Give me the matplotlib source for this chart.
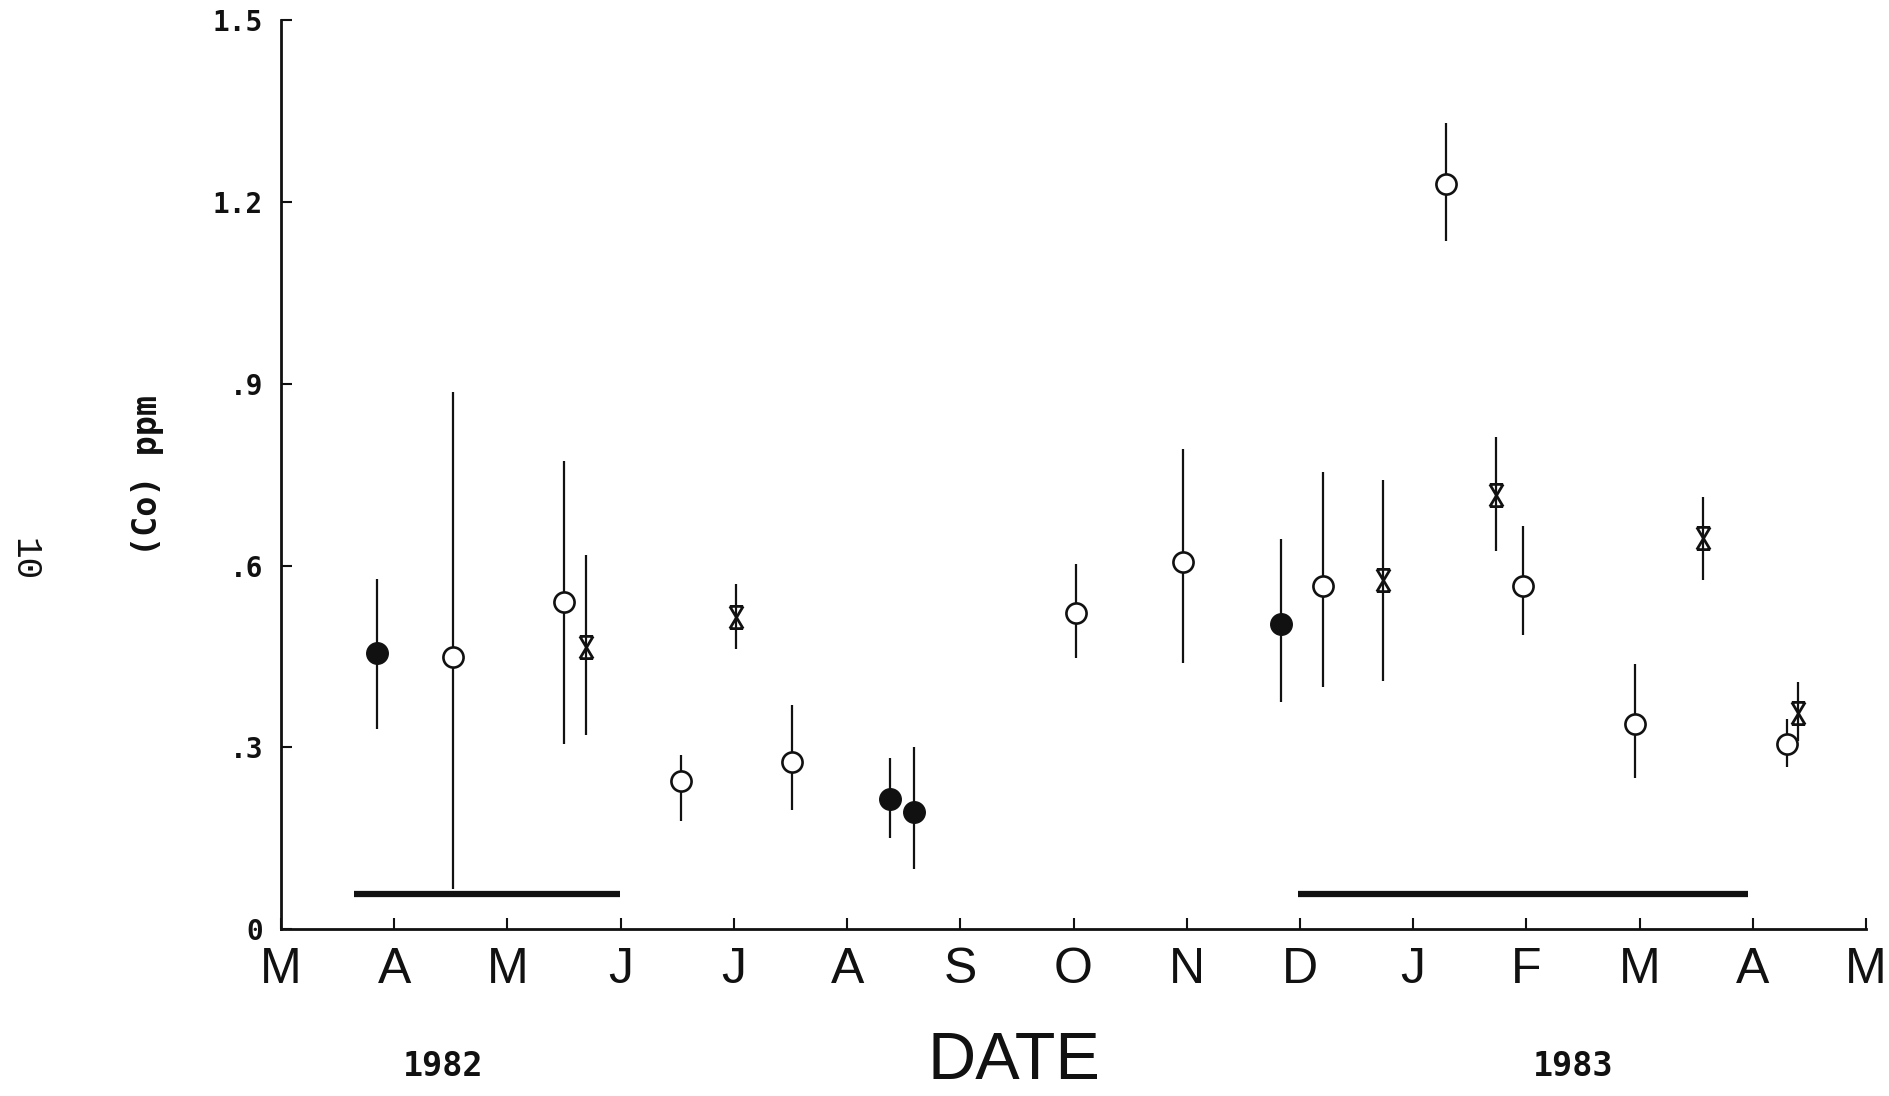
import matplotlib
matplotlib.use("Agg")
import matplotlib.pyplot as plt
from matplotlib.path import Path

# months counted from 1 March 1982 (one unit per month)
month_labels = ["M", "A", "M", "J", "J", "A", "S", "O", "N", "D", "J", "F", "M", "A", "M"]
y_ticks = [0, 0.3, 0.6, 0.9, 1.2, 1.5]
y_tick_labels = ["0", ".3", ".6", ".9", "1.2", "1.5"]

# filled circles
filled_x = [0.85, 5.38, 5.59, 8.83]
filled_y = [0.455, 0.215, 0.193, 0.503]
filled_lo = [0.330, 0.151, 0.099, 0.374]
filled_hi = [0.578, 0.282, 0.300, 0.644]

# open circles
open_x = [1.52, 2.50, 3.53, 4.51, 7.02, 7.97, 9.20, 10.29, 10.97, 11.96, 13.30]
open_y = [0.449, 0.540, 0.244, 0.276, 0.521, 0.606, 0.566, 1.230, 0.566, 0.338, 0.306]
open_lo = [0.066, 0.306, 0.179, 0.197, 0.447, 0.439, 0.399, 1.135, 0.485, 0.250, 0.268]
open_hi = [0.886, 0.773, 0.288, 0.370, 0.602, 0.793, 0.755, 1.331, 0.666, 0.437, 0.346]

# hourglass stars
star_x = [2.69, 4.02, 9.73, 10.73, 12.56, 13.40]
star_y = [0.465, 0.515, 0.576, 0.717, 0.646, 0.356]
star_lo = [0.320, 0.463, 0.409, 0.624, 0.576, 0.310]
star_hi = [0.618, 0.570, 0.741, 0.813, 0.713, 0.407]

# thick horizontal period bars
period_start = [0.64, 8.98]
period_end = [2.99, 12.96]
period_level = [0.058, 0.058]

INK = "#111111"

# X with bars on top and bottom
star_path = Path(
    [(-0.6, 1), (0.6, 1), (-0.6, 1), (0.6, -1), (0.6, 1), (-0.6, -1), (-0.6, -1), (0.6, -1)],
    [Path.MOVETO, Path.LINETO, Path.MOVETO, Path.LINETO,
     Path.MOVETO, Path.LINETO, Path.MOVETO, Path.LINETO],
)

fig = plt.figure(figsize=(18.89, 10.96), dpi=100)
ax = fig.add_axes([0.1488, 0.1524, 0.839, 0.829])

ax.vlines(filled_x, filled_lo, filled_hi, color=INK, lw=1.6)
ax.vlines(open_x, open_lo, open_hi, color=INK, lw=1.6)
ax.vlines(star_x, star_lo, star_hi, color=INK, lw=1.6)

ax.plot(filled_x, filled_y, "o", ms=15.5, color=INK, ls="none")
ax.plot(open_x, open_y, "o", ms=14.5, mfc="white", mec=INK, mew=1.9, ls="none")
ax.plot(star_x, star_y, marker=star_path, ms=16, mfc="none", mec=INK, mew=2.0, ls="none")

ax.hlines(period_level, period_start, period_end, color=INK, lw=4.5)

ax.set_xlim(0, 14)
ax.set_ylim(0, 1.5)
ax.set_xticks(range(len(month_labels)))
ax.set_xticklabels(month_labels, family="Liberation Sans", fontsize=36)
ax.set_yticks(y_ticks)
ax.set_yticklabels(y_tick_labels, family="DejaVu Sans Mono", fontweight="bold", fontsize=20)
ax.tick_params(axis="x", direction="in", length=8, width=1.5, pad=13, colors=INK)
ax.tick_params(axis="y", direction="in", length=8, width=1.5, pad=13, colors=INK)

for side in ("top", "right"):
    ax.spines[side].set_visible(False)
for side in ("left", "bottom"):
    ax.spines[side].set_linewidth(2)
    ax.spines[side].set_color(INK)

fig.text(1014 / 1889, 1 - 1079 / 1096, "DATE", ha="center", va="baseline",
         family="Liberation Sans", fontsize=48, color=INK)
fig.text(443 / 1889, 1 - 1066 / 1096, "1982", ha="center", va="center",
         family="DejaVu Sans Mono", fontweight="bold", fontsize=24, color=INK)
fig.text(1573 / 1889, 1 - 1066 / 1096, "1983", ha="center", va="center",
         family="DejaVu Sans Mono", fontweight="bold", fontsize=24, color=INK)
fig.text(148 / 1889, 1 - 476 / 1096, "(Co) ppm", ha="center", va="center", rotation=90,
         family="DejaVu Sans Mono", fontweight="bold", fontsize=24, color=INK)
fig.text(24 / 1889, 1 - 560 / 1096, "10", ha="center", va="center", rotation=-90,
         family="Liberation Mono", fontsize=26, color=INK)

fig.savefig("out.png", dpi=100, facecolor="white")
